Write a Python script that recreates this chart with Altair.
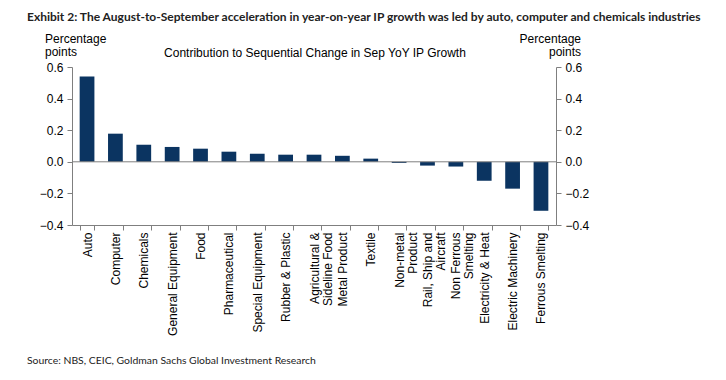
import altair as alt
import pandas as pd

categories = [
    "Auto", "Computer", "Chemicals", "General Equipment", "Food",
    "Pharmaceutical", "Special Equipment", "Rubber & Plastic",
    "Agricultural &|Sideline Food", "Metal Product", "Textile",
    "Non-metal|Product", "Rail, Ship and|Aircraft", "Non Ferrous|Smelting",
    "Electricity & Heat", "Electric Machinery", "Ferrous Smelting",
]
values = [0.54, 0.178, 0.108, 0.094, 0.083, 0.064, 0.051, 0.045, 0.045,
          0.038, 0.02, -0.007, -0.024, -0.03, -0.12, -0.17, -0.31]
y_ticks = [-0.4, -0.2, 0.0, 0.2, 0.4, 0.6]

title_text = ("Exhibit 2: The August-to-September acceleration in year-on-year IP "
              "growth was led by auto, computer and chemicals industries")
subtitle_text = "Contribution to Sequential Change in Sep YoY IP Growth"
unit_text = "Percentage\npoints"
source_text = "Source: NBS, CEIC, Goldman Sachs Global Investment Research"

df = pd.DataFrame({"cat": categories, "v": values})
zero = pd.DataFrame({"v": [0.0]})

GRAY = "#7f7f7f"
NAVY = "#0b3461"
yscale = alt.Scale(domain=[-0.4, 0.6], nice=False, zero=False)

bars = alt.Chart(df).mark_bar(color=NAVY).encode(
    x=alt.X("cat:N", sort=None, title=None,
            scale=alt.Scale(paddingInner=0.48, paddingOuter=0.27),
            axis=alt.Axis(labelAngle=-90, labelAlign="right", labelBaseline="middle",
                          tickBand="extent", labelExpr="split(datum.label, '|')",
                          labelLimit=0, labelPadding=2, labelLineHeight=13)),
    y=alt.Y("v:Q", scale=yscale, title=None,
            axis=alt.Axis(values=y_ticks, format=".1f", orient="left", grid=False)),
)

zline = alt.Chart(zero).mark_rule(color=GRAY, strokeWidth=1).encode(
    y=alt.Y("v:Q", scale=yscale, title=None,
            axis=alt.Axis(values=y_ticks, format=".1f", orient="right", grid=False)),
)

def txt(s, x, y, **kw):
    return alt.Chart(pd.DataFrame({"t": [s]})).mark_text(lineBreak="\n", **kw).encode(
        text="t:N", x=alt.value(x), y=alt.value(y))

t_title = txt(title_text, -45, -46, align="left", baseline="alphabetic",
              font="Lato", fontWeight="bold", fontSize=12.0, color="#222")
t_sub = txt(subtitle_text, 243, -10, align="center", baseline="alphabetic",
            font="Liberation Sans", fontSize=12, color="#000")
t_left = txt(unit_text, -27, -24, align="left", baseline="alphabetic",
             font="Liberation Sans", fontSize=12, lineHeight=13, color="#000")
t_right = txt(unit_text, 509, -24, align="right", baseline="alphabetic",
              font="Liberation Sans", fontSize=12, lineHeight=13, color="#000")
t_src = txt(source_text, -45, 297, align="left", baseline="alphabetic",
            font="Lato", fontSize=10.4, color="#222")

chart = alt.layer(bars, zline, t_title, t_sub, t_left, t_right, t_src).resolve_axis(
    y="independent"
).properties(
    width=484, height=158,
    autosize=alt.AutoSizeParams(type="none"),
    padding={"left": 64, "top": 59, "right": 162, "bottom": 147},
).configure_view(stroke=None).configure_axis(
    domainColor=GRAY, tickColor=GRAY, tickSize=5, labelColor="#000",
    labelFont="Liberation Sans", labelFontSize=12, labelPadding=4,
)

chart.save("out.html", embed_options={"renderer": "svg", "actions": False})
